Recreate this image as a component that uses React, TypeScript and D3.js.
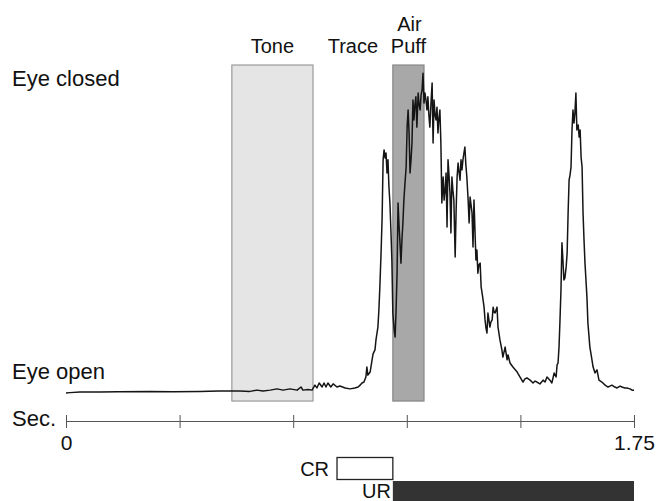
import React from 'react';
import * as d3 from 'd3';

// eyelid trace: [time (s), closure (% of full closure)]
const trace: [number, number][] = [
  [0, -0.3], [0.012, -0.2], [0.043, 0], [0.105, 0], [0.160, 0.1], [0.259, 0.2], [0.330, 0.1],
  [0.413, 0.2], [0.470, 0.3], [0.511, 0.3], [0.536, 0.3], [0.567, 0.2], [0.588, 0.6], [0.607, 0.3],
  [0.629, 0.6], [0.650, 1.0], [0.669, 0.6], [0.690, 1.0], [0.712, 0.6], [0.724, 1.6], [0.730, 0.6],
  [0.746, 0.8], [0.758, 0.6], [0.767, 2.2], [0.773, 1.3], [0.780, 2.9], [0.789, 1.6], [0.795, 2.9],
  [0.801, 1.6], [0.807, 2.9], [0.816, 1.6], [0.823, 2.6], [0.835, 1.6], [0.844, 1.9], [0.860, 1.3],
  [0.875, 1.0], [0.890, 1.3], [0.900, 1.6], [0.906, 2.2], [0.912, 2.9], [0.918, 3.2], [0.924, 4.8],
  [0.927, 8.0], [0.930, 5.4], [0.937, 6.4], [0.943, 10.3], [0.946, 12.2], [0.952, 13.5], [0.955, 16.7],
  [0.961, 20.8], [0.964, 26.3], [0.967, 33.7], [0.971, 45.5], [0.974, 56.1], [0.977, 74.4], [0.980, 77.6],
  [0.983, 75.0], [0.986, 76.6], [0.989, 70.2], [0.992, 74.4], [0.995, 65.7], [0.998, 60.6], [1.001, 51.9],
  [1.004, 42.3], [1.007, 25.3], [1.011, 19.9], [1.014, 17.6], [1.017, 26.3], [1.020, 38.1], [1.023, 60.6],
  [1.026, 53.5], [1.029, 47.8], [1.032, 41.3], [1.035, 48.7], [1.038, 54.2], [1.041, 61.5], [1.044, 66.3],
  [1.048, 72.1], [1.051, 84.9], [1.054, 90.4], [1.057, 83.0], [1.060, 70.2], [1.063, 74.4], [1.066, 79.8],
  [1.069, 93.6], [1.072, 87.2], [1.075, 92.0], [1.078, 94.6], [1.081, 84.9], [1.085, 95.8], [1.088, 92.0],
  [1.091, 90.4], [1.094, 95.2], [1.097, 96.8], [1.100, 102.2], [1.103, 92.6], [1.106, 95.8], [1.109, 93.6],
  [1.112, 90.4], [1.115, 94.6], [1.118, 88.8], [1.121, 84.9], [1.125, 93.6], [1.128, 99.0], [1.131, 79.8],
  [1.134, 93.6], [1.137, 88.8], [1.140, 87.2], [1.143, 91.3], [1.146, 83.0], [1.149, 87.8], [1.152, 90.4],
  [1.155, 79.8], [1.158, 60.6], [1.162, 68.9], [1.165, 61.5], [1.168, 64.7], [1.171, 70.2], [1.174, 52.9],
  [1.177, 74.4], [1.180, 69.6], [1.183, 63.8], [1.186, 51.0], [1.189, 68.9], [1.192, 64.7], [1.195, 61.5],
  [1.199, 43.3], [1.202, 58.3], [1.205, 68.9], [1.208, 73.4], [1.211, 70.5], [1.214, 67.9], [1.217, 74.4],
  [1.220, 71.2], [1.223, 74.4], [1.226, 76.6], [1.229, 78.5], [1.232, 72.8], [1.235, 68.9], [1.239, 61.5],
  [1.242, 54.2], [1.245, 62.5], [1.248, 59.9], [1.251, 57.4], [1.254, 46.5], [1.257, 61.5], [1.260, 51.9],
  [1.263, 42.3], [1.266, 45.5], [1.269, 38.1], [1.272, 40.7], [1.276, 41.3], [1.279, 33.7], [1.282, 31.7],
  [1.285, 29.5], [1.288, 27.2], [1.291, 23.1], [1.294, 20.5], [1.297, 18.9], [1.300, 25.3], [1.303, 23.1],
  [1.306, 20.8], [1.309, 22.4], [1.313, 23.1], [1.316, 27.2], [1.319, 25.6], [1.322, 25.3], [1.325, 26.3],
  [1.328, 27.2], [1.331, 20.8], [1.337, 16.7], [1.343, 13.5], [1.346, 11.2], [1.353, 14.4], [1.359, 10.3],
  [1.362, 11.9], [1.368, 9.3], [1.377, 8.0], [1.390, 6.4], [1.399, 4.8], [1.408, 3.2], [1.414, 4.2],
  [1.420, 4.5], [1.430, 3.8], [1.439, 2.9], [1.445, 3.5], [1.451, 3.2], [1.460, 2.6], [1.470, 3.8],
  [1.476, 3.2], [1.482, 4.8], [1.491, 3.8], [1.497, 2.9], [1.504, 6.1], [1.510, 4.8], [1.513, 8.7],
  [1.516, 9.3], [1.519, 14.4], [1.522, 23.1], [1.525, 32.7], [1.528, 47.8], [1.531, 42.3], [1.534, 35.9],
  [1.537, 36.5], [1.541, 40.1], [1.544, 44.6], [1.547, 57.4], [1.550, 67.9], [1.553, 69.6], [1.556, 72.1],
  [1.559, 84.0], [1.562, 90.4], [1.565, 86.2], [1.568, 89.4], [1.571, 95.8], [1.574, 84.0], [1.578, 85.6],
  [1.581, 81.7], [1.584, 84.0], [1.587, 75.3], [1.590, 72.1], [1.593, 57.4], [1.596, 48.7], [1.599, 41.3],
  [1.602, 35.9], [1.605, 30.4], [1.608, 22.1], [1.611, 18.3], [1.614, 14.4], [1.618, 11.9], [1.624, 8.0],
  [1.630, 6.1], [1.636, 7.1], [1.642, 3.8], [1.651, 3.2], [1.661, 2.2], [1.670, 1.6], [1.676, 1.9],
  [1.682, 2.2], [1.691, 1.6], [1.698, 1.3], [1.707, 1.9], [1.713, 1.6], [1.722, 1.3], [1.728, 1.3],
  [1.738, 1.0], [1.744, 0.6], [1.750, 0.6],
];

// stimulus periods (s)
const tone = [0.511, 0.761];
const airPuff = [1.007, 1.103];
const crPeriod = [0.835, 1.007];
const urPeriod = [1.007, 1.75];

const tickValues = [0, 0.35, 0.7, 1.05, 1.4, 1.75];
const tickLabels = ['0', '', '', '', '', '1.75'];

const W = 665;
const H = 501;
const font = '"Liberation Sans", Arial, Helvetica, sans-serif';

const App = () => {
  const x = d3.scaleLinear().domain([0, 1.75]).range([66, 634]);
  const y = d3.scaleLinear().domain([0, 100]).range([392, 80]);

  const line = d3.line<[number, number]>()
    .x(d => x(d[0]))
    .y(d => y(d[1]));

  const boxTop = y(104.8);
  const boxBottom = y(-2.9);
  const axisY = 421;

  const axisRef = (node: SVGGElement | null) => {
    if (!node) return;
    const g = d3.select(node);
    g.selectAll('*').remove();
    const down = g.append('g').call(
      d3.axisBottom(x).tickValues(tickValues).tickSize(7).tickFormat((_, i) => tickLabels[i])
    );
    const up = g.append('g').call(
      d3.axisTop(x).tickValues(tickValues).tickSize(6).tickFormat(() => '')
    );
    up.select('.domain').remove();
    g.selectAll('.domain').attr('stroke', '#555').attr('d', `M${x(0)},0.5H${x(1.75)}`);
    g.selectAll('.tick line').attr('stroke', '#555');
    down.selectAll('.tick text')
      .attr('font-family', font)
      .attr('font-size', 21)
      .attr('fill', '#111')
      .attr('dy', 0)
      .attr('y', 29);
  };

  return (
    <svg width={W} height={H} style={{ position: 'absolute', left: 0, top: 0, background: '#fff' }}>
      <rect x={x(tone[0])} y={boxTop} width={x(tone[1]) - x(tone[0])} height={boxBottom - boxTop}
        fill="#e5e5e5" stroke="#9a9a9a" strokeWidth={1.2} />
      <rect x={x(airPuff[0])} y={boxTop} width={x(airPuff[1]) - x(airPuff[0])} height={boxBottom - boxTop}
        fill="#a8a8a8" stroke="#878787" strokeWidth={1.2} />

      <path d={line(trace) || ''} fill="none" stroke="#151515" strokeWidth={1.5} strokeLinejoin="round" />

      <g transform={`translate(0,${axisY})`} ref={axisRef} />

      <rect x={x(crPeriod[0])} y={457.5} width={x(crPeriod[1]) - x(crPeriod[0])} height={22}
        fill="#fff" stroke="#222" strokeWidth={1.3} />
      <rect x={x(urPeriod[0])} y={481} width={x(urPeriod[1]) - x(urPeriod[0])} height={H - 481}
        fill="#333" />

      <g fontFamily={font} fill="#111">
        <g fontSize={22}>
          <text x={12} y={86}>Eye closed</text>
          <text x={12} y={379}>Eye open</text>
          <text x={12} y={426}>Sec.</text>
        </g>
        <g fontSize={20}>
          <text x={x((tone[0] + tone[1]) / 2)} y={53} textAnchor="middle">Tone</text>
          <text x={x((tone[1] + airPuff[0]) / 2)} y={53} textAnchor="middle">Trace</text>
          <text x={x((airPuff[0] + airPuff[1]) / 2) + 1} y={31} textAnchor="middle">Air</text>
          <text x={x((airPuff[0] + airPuff[1]) / 2)} y={53} textAnchor="middle">Puff</text>
          <text x={x(crPeriod[0]) - 8} y={476} textAnchor="end">CR</text>
          <text x={x(urPeriod[0]) - 2} y={498} textAnchor="end">UR</text>
        </g>
      </g>
    </svg>
  );
};

export default App;
